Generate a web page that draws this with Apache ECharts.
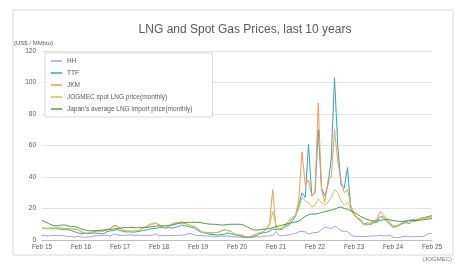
<!DOCTYPE html>
<html>
<head>
<meta charset="utf-8">
<script src="https://cdn.jsdelivr.net/npm/echarts@6/dist/echarts.min.js"></script>
<style>
  html, body { margin: 0; padding: 0; background: #fff; }
  #chart { width: 460px; height: 264px; }
</style>
</head>
<body>
<div id="chart"></div>
<script>
// monthly, Feb 2015 .. Feb 2025 (121 points)
const MONTHS = ["Jan", "Feb", "Mar", "Apr", "May", "Jun", "Jul", "Aug", "Sep", "Oct", "Nov", "Dec"];
const categories = [];
for (let i = 0; i < 121; i++) {
  const m = (1 + i) % 12;
  const y = 15 + Math.floor((1 + i) / 12);
  categories.push(MONTHS[m] + " " + y);
}

const hh = [
  2.9, 2.8, 2.6, 2.9, 2.8, 2.8, 2.8, 2.7, 2.3, 2.1, 1.9,
  2.3, 2.0, 1.7, 1.9, 1.9, 2.6, 2.8, 2.8, 3.0, 3.0, 2.5, 3.6,
  3.3, 2.9, 2.9, 3.1, 3.2, 3.0, 3.0, 2.9, 3.0, 2.9, 3.0, 2.8,
  3.9, 2.7, 2.7, 2.8, 2.8, 2.9, 2.8, 3.0, 3.0, 3.3, 4.1, 4.0,
  3.1, 2.7, 2.9, 2.6, 2.6, 2.4, 2.4, 2.2, 2.6, 2.3, 2.6, 2.2,
  2.0, 1.9, 1.8, 1.7, 1.7, 1.6, 1.8, 2.3, 1.9, 2.4, 2.6, 2.6,
  2.7, 5.4, 2.6, 2.7, 2.9, 3.3, 3.8, 4.1, 5.2, 5.5, 5.1, 3.8,
  4.4, 4.7, 4.9, 6.6, 8.1, 7.7, 7.3, 8.8, 7.9, 5.7, 5.5, 5.5,
  3.3, 2.4, 2.3, 2.2, 2.2, 2.2, 2.6, 2.6, 2.6, 3.0, 2.7, 2.5,
  3.2, 1.7, 1.5, 1.6, 2.1, 2.5, 2.1, 2.0, 2.3, 2.2, 2.1, 3.0,
  4.1, 4.2
];

const ttf = [
  7.5, 7.4, 7.3, 7.2, 7.1, 7.2, 6.6, 6.5, 6.6, 6.0, 5.2,
  4.6, 3.9, 4.2, 4.0, 4.2, 4.5, 4.3, 4.0, 4.0, 5.3, 5.8, 5.9,
  6.6, 6.1, 5.4, 5.1, 5.2, 5.0, 5.2, 5.5, 6.0, 6.3, 6.8, 7.3,
  7.3, 7.9, 8.0, 7.5, 8.0, 7.5, 8.0, 8.5, 9.5, 9.0, 8.5, 8.0,
  7.5, 6.0, 5.0, 4.5, 4.0, 3.5, 3.5, 3.0, 3.5, 3.5, 4.5, 4.0,
  3.5, 3.0, 2.5, 2.0, 1.7, 1.8, 2.0, 2.9, 4.0, 4.5, 4.8, 5.7,
  7.0, 6.5, 6.5, 7.0, 8.7, 9.5, 12.0, 15.0, 22.0, 30.0, 27.0, 61.0,
  28.0, 30.0, 70.0, 33.0, 28.0, 35.0, 52.0, 103.0, 60.0, 35.0, 33.0, 46.0,
  20.0, 16.0, 14.0, 13.0, 10.0, 11.0, 9.5, 11.0, 11.0, 15.0, 14.0, 12.0,
  10.0, 8.0, 8.5, 9.5, 10.5, 11.0, 10.5, 12.0, 12.0, 13.0, 14.0, 14.5,
  15.0, 15.5
];

const jkm = [
  7.5, 7.2, 7.3, 7.6, 7.5, 7.6, 7.5, 7.2, 7.3, 7.2, 7.0,
  6.6, 5.0, 4.3, 4.4, 4.6, 5.5, 5.8, 5.3, 5.7, 6.5, 7.0, 9.3,
  9.0, 7.6, 6.3, 5.7, 5.6, 5.5, 5.8, 6.2, 7.8, 8.3, 9.8, 10.5,
  11.0, 9.7, 8.5, 7.9, 8.8, 10.3, 11.0, 11.1, 11.6, 10.5, 9.5, 9.0,
  8.5, 7.0, 5.0, 4.7, 4.6, 4.5, 4.6, 4.8, 5.5, 6.5, 6.0, 5.7,
  4.0, 3.3, 3.3, 2.4, 2.0, 2.2, 3.0, 4.0, 4.5, 5.0, 7.0, 10.5,
  32.0, 7.0, 6.8, 8.0, 10.0, 12.5, 14.0, 16.0, 25.0, 56.0, 35.0, 38.0,
  28.0, 30.0, 87.0, 32.0, 24.0, 38.0, 40.0, 70.0, 50.0, 38.0, 30.0, 32.0,
  22.0, 17.0, 14.0, 12.0, 10.0, 9.5, 11.0, 12.0, 13.0, 18.0, 16.0, 14.0,
  11.0, 9.0, 9.0, 10.0, 11.5, 12.0, 12.5, 13.0, 13.0, 13.5, 14.0, 14.0,
  14.5, 15.0
];

const jogmecSpot = [
  7.5, 7.4, 7.5, 7.5, 7.5, 7.7, 7.6, 7.4, 7.2, 7.0, 7.2,
  6.5, 5.5, 4.6, 4.4, 4.7, 5.3, 5.9, 5.6, 5.9, 6.5, 7.2, 8.5,
  8.8, 7.5, 6.3, 5.8, 5.6, 5.5, 5.8, 6.2, 7.4, 8.0, 9.2, 10.0,
  10.5, 9.5, 8.3, 7.8, 8.6, 10.0, 10.6, 10.8, 11.0, 10.5, 9.6, 9.0,
  8.5, 7.2, 5.4, 5.0, 4.7, 4.5, 4.7, 4.9, 5.4, 6.3, 6.0, 5.7,
  4.3, 3.5, 3.4, 2.6, 2.2, 2.3, 3.0, 4.0, 4.6, 5.2, 6.8, 9.5,
  18.0, 9.0, 7.0, 8.0, 9.5, 11.5, 13.5, 15.5, 20.0, 27.0, 25.0, 24.0,
  21.0, 22.0, 26.0, 24.0, 22.0, 24.0, 27.0, 32.0, 30.0, 25.0, 22.0, 24.0,
  20.0, 16.0, 13.5, 12.0, 10.0, 9.5, 10.5, 11.5, 12.5, 15.0, 15.0, 13.0,
  10.5, 8.8, 8.8, 9.8, 11.0, 11.8, 12.2, 12.8, 12.8, 13.0, 13.5, 13.8,
  14.0, 14.2
];

const japanAvg = [
  12.5, 11.5, 10.5, 9.5, 9.0, 9.0, 9.5, 9.5, 9.0, 8.5, 8.5,
  8.0, 7.0, 6.5, 6.0, 5.8, 5.8, 6.0, 6.2, 6.3, 6.5, 6.8, 7.0,
  7.3, 7.5, 7.8, 8.0, 8.0, 7.9, 7.8, 7.8, 7.9, 8.0, 8.2, 8.5,
  8.8, 9.0, 9.0, 9.0, 9.2, 9.5, 10.0, 10.5, 10.8, 11.0, 11.2, 11.2,
  11.3, 11.2, 11.0, 10.5, 10.2, 10.0, 10.0, 9.8, 9.5, 9.5, 9.8, 10.0,
  10.0, 10.0, 10.0, 9.5, 8.5, 7.5, 6.5, 6.3, 6.5, 6.8, 7.0, 7.2,
  7.8, 8.5, 9.0, 9.5, 10.0, 10.5, 11.0, 11.5, 12.0, 13.5, 15.0, 16.0,
  16.5, 16.5, 16.8, 17.5, 18.0, 18.5, 19.0, 19.5, 20.5, 21.0, 20.0, 19.5,
  18.5, 17.5, 16.5, 15.0, 14.0, 13.0, 12.5, 12.0, 12.0, 12.5, 12.8, 13.0,
  12.8, 12.3, 12.0, 11.8, 11.8, 12.0, 12.2, 12.5, 12.3, 12.5, 12.8, 13.0,
  13.3, 13.5
];

const seriesNames = ["HH", "TTF", "JKM", "JOGMEC spot LNG price(monthly)", "Japan's average LNG import price(monthly)"];
const seriesColors = ["#9fa3e3", "#3aa3b5", "#f29a55", "#b9c95e", "#4f9a45"];
const seriesData = [hh, ttf, jkm, jogmecSpot, japanAvg];

const chart = echarts.init(document.getElementById("chart"));
const textColor = "#595959";
const font = "Liberation Sans, Arial, sans-serif";

chart.setOption({
  animation: false,
  backgroundColor: "#fff",
  textStyle: { fontFamily: font },
  title: {
    text: "LNG and Spot Gas Prices, last 10 years",
    left: 240,
    textAlign: "center",
    top: 19,
    textStyle: { fontSize: 12, fontWeight: "normal", color: textColor, fontFamily: font }
  },
  graphic: [
    {
      type: "rect",
      shape: { x: 13, y: 10, width: 440, height: 245 },
      style: { fill: "none", stroke: "#d9d9d9", lineWidth: 1 },
      silent: true
    },
    {
      type: "text",
      left: 14,
      top: 40,
      style: { text: "(US$ / MMbtu)", fontSize: 6, fill: textColor, fontFamily: font }
    },
    {
      type: "text",
      right: 8,
      top: 256,
      style: { text: "(JOGMEC)", fontSize: 6, fill: "#777", fontFamily: font }
    }
  ],
  legend: {
    orient: "vertical",
    left: 45,
    top: 53,
    data: seriesNames,
    icon: "rect",
    itemWidth: 11,
    itemHeight: 1.5,
    itemGap: 4,
    padding: [4, 20, 4, 6],
    borderColor: "#d9d9d9",
    borderWidth: 1,
    backgroundColor: "#fff",
    textStyle: { fontSize: 6.5, lineHeight: 8, color: textColor, fontFamily: font }
  },
  grid: { left: 42, right: 28, top: 51, bottom: 24, containLabel: false },
  xAxis: {
    type: "category",
    data: categories,
    boundaryGap: false,
    axisLine: { lineStyle: { color: "#bfbfbf" } },
    axisTick: { show: false },
    axisLabel: { interval: 11, fontSize: 6.5, color: textColor, margin: 4 }
  },
  yAxis: {
    type: "value",
    min: 0,
    max: 120,
    interval: 20,
    axisLine: { show: false },
    axisTick: { show: false },
    axisLabel: { fontSize: 6.5, color: textColor, margin: 6 },
    splitLine: { lineStyle: { color: "#e3e3e3", width: 1 } }
  },
  series: seriesData.map((data, i) => ({
    name: seriesNames[i],
    type: "line",
    data: data,
    symbol: "none",
    lineStyle: { width: 1, color: seriesColors[i] },
    itemStyle: { color: seriesColors[i] },
    z: i === 4 ? 5 : 2
  }))
});
</script>
</body>
</html>
